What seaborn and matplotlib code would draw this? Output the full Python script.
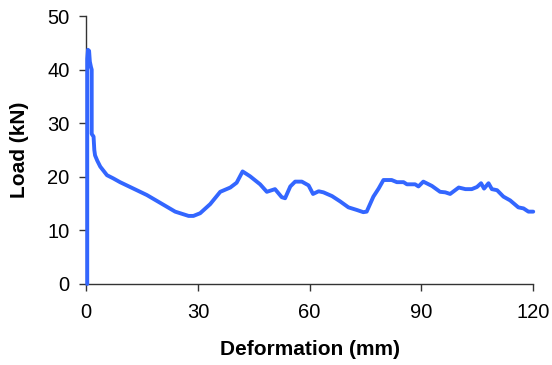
import numpy as np
import pandas as pd
import matplotlib
matplotlib.use("Agg")
import matplotlib.pyplot as plt
import seaborn as sns

# load-deformation curve
deformation = [
    0.3, 0.3, 0.5, 0.8, 1.0, 1.3, 1.5, 1.5, 2.0, 2.2, 2.4, 3.0, 3.8,
    5.6, 7.3, 9.1, 10.9, 13.6, 16.3, 19.0, 21.7, 23.9, 27.5, 28.8, 30.6,
    33.3, 36.0, 38.7, 40.4, 42.0, 44.0, 46.7, 48.5, 50.7, 52.5, 53.4,
    54.8, 56.1, 57.9, 59.7, 60.9, 62.4, 63.7, 66.0, 68.2, 70.4, 72.7,
    74.4, 75.3, 77.1, 78.5, 79.8, 82.0, 83.4, 85.2, 86.1, 88.3, 89.2,
    90.5, 92.8, 95.0, 96.4, 97.7, 100.0, 101.8, 103.5, 104.9, 106.0,
    106.8, 108.0, 108.9, 110.3, 112.0, 113.8, 116.0, 117.4, 118.7, 120.0,
]
load = [
    0.0, 42.0, 43.7, 43.5, 41.5, 40.5, 40.0, 28.0, 27.5, 25.0, 24.0,
    23.0, 21.9, 20.3, 19.7, 19.0, 18.4, 17.5, 16.6, 15.5, 14.4, 13.5, 12.7,
    12.7, 13.2, 14.9, 17.2, 18.0, 18.9, 21.0, 20.1, 18.6, 17.2, 17.7, 16.2,
    16.0, 18.2, 19.1, 19.1, 18.4, 16.8, 17.3, 17.1, 16.4, 15.4, 14.3, 13.8,
    13.4, 13.5, 16.3, 17.8, 19.4, 19.4, 19.0, 19.0, 18.6, 18.6, 18.2, 19.1,
    18.3, 17.2, 17.1, 16.8, 18.0, 17.7, 17.7, 18.1, 18.8, 17.8, 18.8, 17.7,
    17.5, 16.3, 15.6, 14.3, 14.1, 13.5, 13.5,
]

df = pd.DataFrame({"Deformation (mm)": deformation, "Load (kN)": load})

sns.set_style("ticks")
plt.rcParams["font.family"] = ["Liberation Sans", "DejaVu Sans"]
plt.rcParams["text.color"] = "black"
plt.rcParams["axes.labelcolor"] = "black"
plt.rcParams["xtick.color"] = "black"
plt.rcParams["ytick.color"] = "black"

fig = plt.figure(figsize=(5.52, 3.65), dpi=100)
ax = fig.add_axes([0.156, 0.222, 0.81, 0.734])
sns.lineplot(data=df, x="Deformation (mm)", y="Load (kN)", sort=False,
             estimator=None, color="#3366FF", linewidth=2.8, ax=ax,
             zorder=3, clip_on=False)

ax.set_xlim(0, 120)
ax.set_ylim(0, 50)
ax.set_xticks([0, 30, 60, 90, 120])
ax.set_yticks([0, 10, 20, 30, 40, 50])
ax.tick_params(labelsize=14.5, length=5, width=1, color="#333333")
ax.tick_params(axis="x", pad=9)
ax.tick_params(axis="y", pad=7)
ax.set_xlabel("Deformation (mm)", fontsize=15, fontweight="bold", labelpad=13)
ax.set_ylabel("Load (kN)", fontsize=15, fontweight="bold", labelpad=13)
for s in ["left", "bottom"]:
    ax.spines[s].set_color("#333333")
    ax.spines[s].set_linewidth(1)
sns.despine(ax=ax)

fig.savefig("out.png", dpi=100)
